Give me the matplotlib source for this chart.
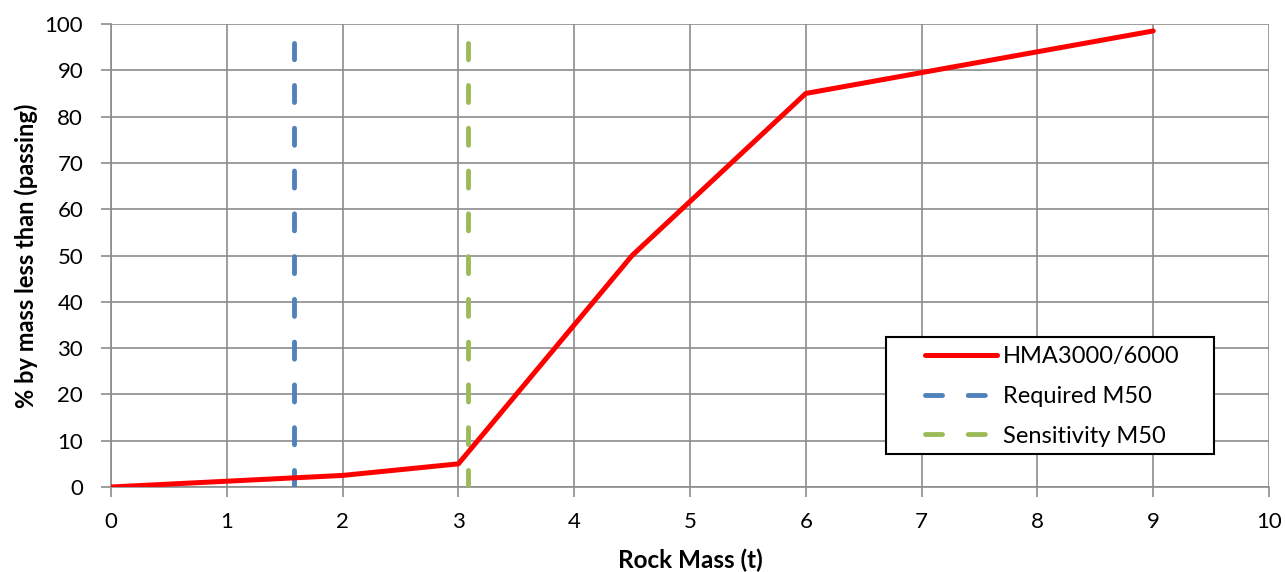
import matplotlib
matplotlib.use("Agg")
import matplotlib.pyplot as plt
from matplotlib.patches import Rectangle

# Data
mass_t = [0, 2, 3, 4.5, 6, 9]
passing_pct = [0, 2.5, 5, 50, 85, 98.5]
required_m50 = 1.58
sensitivity_m50 = 3.08
vline_range = [0, 96]
x_ticks = list(range(0, 11))
y_ticks = list(range(0, 101, 10))

plt.rcParams['font.family'] = ['Lato', 'DejaVu Sans']

W, H = 1285, 572
fig = plt.figure(figsize=(W/100, H/100), dpi=100)
L, R, T, B = 111, 1269, 24, 487
ax = fig.add_axes([L/W, 1-B/H, (R-L)/W, (B-T)/H])

def ax_frac(px, py):
    return (px-L)/(R-L), (B-py)/(B-T)

grid_c = '#8c8c8c'
ax.set_xlim(0, 10)
ax.set_ylim(0, 100)
ax.set_xticks(x_ticks)
ax.set_yticks(y_ticks)
ax.grid(True, color=grid_c, linewidth=1.2)
ax.set_axisbelow(True)
for s in ['top', 'right']:
    ax.spines[s].set_visible(False)
for s in ['left', 'bottom']:
    ax.spines[s].set_color(grid_c)
    ax.spines[s].set_linewidth(1.2)
ax.tick_params(axis='both', direction='out', length=7, width=1.2, color=grid_c,
               labelsize=16)
ax.tick_params(axis='x', pad=11)
ax.tick_params(axis='y', pad=13)

ax.plot(mass_t, passing_pct, color='#ff0000', linewidth=3.6,
        solid_capstyle='round', solid_joinstyle='round', label='HMA3000/6000', zorder=4)
l1, = ax.plot([required_m50, required_m50], vline_range, color='#4f81bd', linewidth=3.5,
              dash_capstyle='round', label='Required M50', zorder=3)
l1.set_dashes((3.5, 5.3))
l2, = ax.plot([sensitivity_m50, sensitivity_m50], vline_range, color='#9bbb59', linewidth=3.5,
              dash_capstyle='round', label='Sensitivity M50', zorder=3)
l2.set_dashes((3.5, 5.3))

ax.set_xlabel('Rock Mass (t)', fontsize=17.5, fontweight='bold', labelpad=12)
ax.set_ylabel('% by mass less than (passing)', fontsize=17, fontweight='bold', labelpad=5)

# legend frame drawn manually
x0, y0 = ax_frac(886, 454)
x1, y1 = ax_frac(1214, 337)
frame = Rectangle((x0, y0), x1-x0, y1-y0, transform=ax.transAxes, facecolor='white',
                  edgecolor='black', linewidth=1.5, zorder=9, clip_on=False)
ax.add_patch(frame)

ax_x, ax_y = ax_frac(919, 340)
leg = ax.legend(loc='upper left', bbox_to_anchor=(ax_x, ax_y), fontsize=17, frameon=False,
                handlelength=3.05, borderpad=0.25, labelspacing=0.8,
                handletextpad=0.25, borderaxespad=0)
leg.set_zorder(10)

fig.savefig('out.png', dpi=100)
